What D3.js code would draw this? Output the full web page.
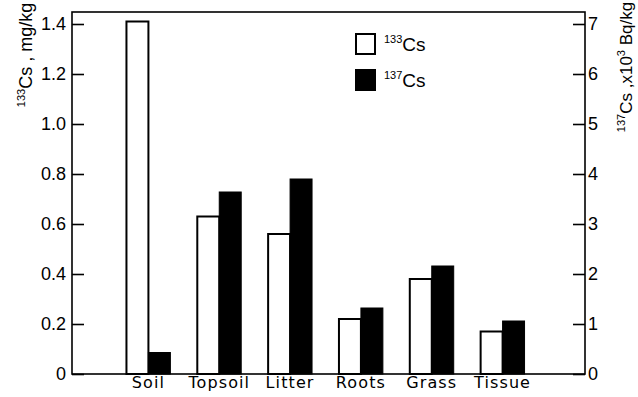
<!DOCTYPE html>
<html>
<head>
<meta charset="utf-8">
<script src="https://cdn.jsdelivr.net/npm/d3@7"></script>
<style>
  body { margin: 0; background: #fff; }
  text { fill: #000; }
</style>
</head>
<body>
<script>
// categories and values
var categories = ["Soil", "Topsoil", "Litter", "Roots", "Grass", "Tissue"];
var cs133 = [1.41, 0.63, 0.56, 0.22, 0.38, 0.17];     // mg/kg, left axis
var cs137 = [0.43, 3.64, 3.9, 1.32, 2.16, 1.06];      // x10^3 Bq/kg, right axis
var leftTicks = [0, 0.2, 0.4, 0.6, 0.8, 1.0, 1.2, 1.4];
var rightTicks = [0, 1, 2, 3, 4, 5, 6, 7];
var seriesKeys = ["133", "137"];

var W = 638, H = 397;
// plot frame (note: "top" is reserved on window, so prefixed names)
var plotL = 72, plotR = 585, plotT = 12, plotB = 374;

var svg = d3.select("body").append("svg")
  .attr("width", W)
  .attr("height", H);

var x = d3.scaleBand()
  .domain(categories)
  .range([113, 538])
  .paddingInner(0.38)
  .paddingOuter(0.19);

var xs = d3.scaleBand()
  .domain(seriesKeys)
  .range([0, x.bandwidth()]);

var yL = d3.scaleLinear().domain([0, 1.448]).range([plotB, plotT]);
var yR = d3.scaleLinear().domain([0, 7.24]).range([plotB, plotT]);

// bars
var groups = svg.append("g").selectAll("g")
  .data(categories)
  .enter().append("g")
  .attr("transform", d => "translate(" + x(d) + ",0)");

groups.append("rect")
  .attr("x", xs("133"))
  .attr("y", (d, i) => yL(cs133[i]))
  .attr("width", xs.bandwidth())
  .attr("height", (d, i) => plotB - yL(cs133[i]))
  .attr("fill", "#fff")
  .attr("stroke", "#000")
  .attr("stroke-width", 2);

groups.append("rect")
  .attr("x", xs("137"))
  .attr("y", (d, i) => yR(cs137[i]))
  .attr("width", xs.bandwidth())
  .attr("height", (d, i) => plotB - yR(cs137[i]))
  .attr("fill", "#000")
  .attr("stroke", "#000")
  .attr("stroke-width", 1);

// frame
svg.append("rect")
  .attr("x", plotL).attr("y", plotT)
  .attr("width", plotR - plotL).attr("height", plotB - plotT)
  .attr("fill", "none")
  .attr("stroke", "#000")
  .attr("stroke-width", 1.6);

var narrow = "'Liberation Sans Narrow', 'Liberation Sans', sans-serif";

// left axis, ticks pointing inward
var gL = svg.append("g")
  .attr("transform", "translate(" + plotL + ",0)")
  .call(d3.axisLeft(yL).tickValues(leftTicks)
    .tickFormat(d => d === 0 ? "0" : d3.format(".1f")(d))
    .tickSizeInner(-12).tickSizeOuter(0).tickPadding(6));
gL.select(".domain").remove();
gL.selectAll("line").attr("stroke-width", 1.6);
gL.selectAll("text").attr("font-family", narrow).attr("font-size", 18);

// right axis
var gR = svg.append("g")
  .attr("transform", "translate(" + plotR + ",0)")
  .call(d3.axisRight(yR).tickValues(rightTicks)
    .tickSizeInner(-12).tickSizeOuter(0).tickPadding(3));
gR.select(".domain").remove();
gR.selectAll("line").attr("stroke-width", 1.6);
gR.selectAll("text").attr("font-family", narrow).attr("font-size", 18);

// category labels
svg.append("g").selectAll("text")
  .data(categories)
  .enter().append("text")
  .attr("x", d => x(d) + x.bandwidth() / 2)
  .attr("y", 388)
  .attr("text-anchor", "middle")
  .attr("font-family", "'DejaVu Sans', sans-serif")
  .attr("font-size", 16)
  .attr("letter-spacing", 1.1)
  .text(d => d);

// axis titles
var tL = svg.append("text")
  .attr("transform", "translate(32,55) rotate(-90)")
  .attr("text-anchor", "middle")
  .attr("font-family", narrow)
  .attr("font-size", 18);
tL.append("tspan").attr("font-size", 11).attr("dy", -7).text("133");
tL.append("tspan").attr("dy", 7).text("Cs , mg/kg");

var tR = svg.append("text")
  .attr("transform", "translate(632,67) rotate(-90)")
  .attr("text-anchor", "middle")
  .attr("font-family", narrow)
  .attr("font-size", 17);
tR.append("tspan").attr("font-size", 11).attr("dy", -7).text("137");
tR.append("tspan").attr("dy", 7).text("Cs ,x10");
tR.append("tspan").attr("font-size", 11).attr("dy", -7).text("3");
tR.append("tspan").attr("dy", 7).text(" Bq/kg");

// legend
var legend = svg.append("g").attr("transform", "translate(356,34)");
var leg = legend.selectAll("g")
  .data(seriesKeys)
  .enter().append("g")
  .attr("transform", (d, i) => "translate(0," + i * 36 + ")");
leg.append("rect")
  .attr("width", 19).attr("height", 20)
  .attr("fill", (d, i) => i === 0 ? "#fff" : "#000")
  .attr("stroke", "#000")
  .attr("stroke-width", 2);
var lt = leg.append("text")
  .attr("x", 28).attr("y", 17)
  .attr("font-family", "'Liberation Sans', sans-serif")
  .attr("font-size", 19);
lt.append("tspan").attr("font-size", 11).attr("dy", -8).text(d => d);
lt.append("tspan").attr("dy", 8).text("Cs");
</script>
</body>
</html>
